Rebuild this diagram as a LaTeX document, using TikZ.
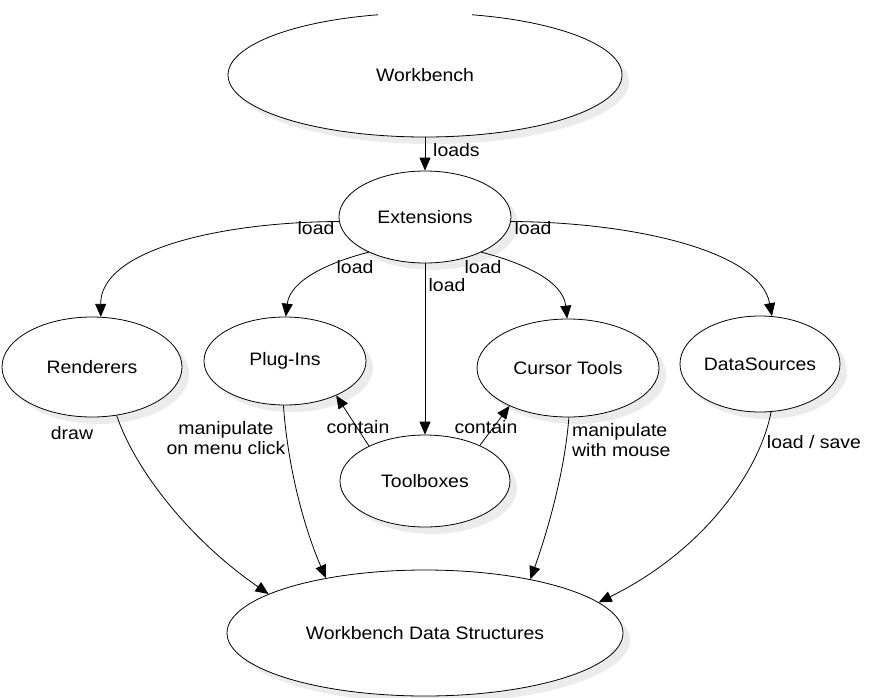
\documentclass[tikz,border=0pt]{standalone}
\usepackage{fontspec}
\setmainfont{Liberation Sans}[FakeStretch=1.08]
\usetikzlibrary{shapes.geometric,arrows.meta,shadows}
\begin{document}
\begin{tikzpicture}[x=1pt,y=-1pt,
  font=\fontsize{18}{20}\selectfont,
  ell/.style={ellipse, draw, line width=0.8pt, fill=white, inner sep=0pt,
    drop shadow={shadow xshift=7pt, shadow yshift=-7pt, fill=black!15}},
  conn/.style={line width=0.8pt, -{Triangle[length=13pt,width=11pt]}},
  lbl/.style={inner sep=0pt}]
\useasboundingbox (0,0) rectangle (870,697);
\fill[white] (0,0) rectangle (870,697);

\node[ell, minimum width=394pt, minimum height=124pt] (wb) at (425,75) {Workbench};
\node[ell, minimum width=172pt, minimum height=92pt] (ext) at (425,217) {Extensions};
\node[ell, minimum width=180pt, minimum height=100pt] (ren) at (92,367) {Renderers};
\node[ell, minimum width=162pt, minimum height=88pt] (plug) at (285,361) {Plug-Ins};
\node[ell, minimum width=182pt, minimum height=98pt] (cur) at (568,368) {Cursor Tools};
\node[ell, minimum width=160pt, minimum height=96pt] (ds) at (760,364) {DataSources};
\node[ell, minimum width=170pt, minimum height=92pt] (tb) at (425,481) {Toolboxes};
\node[ell, minimum width=396pt, minimum height=126pt] (wds) at (425,633) {Workbench Data Structures};

% gap in the top outline of the Workbench ellipse
\fill[white] (378,9) rectangle (472,18);

\draw[conn] (wb.south) -- (ext.north);
\draw[conn] (ext.183) .. controls (220,222) and (100,250) .. (ren.80);
\draw[conn] (ext.357) .. controls (630,222) and (760,250) .. (ds.76);
\draw[conn] (ext.212) .. controls (330,262) and (290,280) .. (plug.89);
\draw[conn] (ext.328) .. controls (520,262) and (563,280) .. (cur.91);
\draw[conn] (ext.south) -- (tb.north);
\draw[conn] (tb.148) -- (plug.326);
\draw[conn] (tb.33) -- (cur.213);
\draw[conn] (ren.297) .. controls (135,470) and (190,540) .. (wds.166);
\draw[conn] (plug.268) .. controls (288,470) and (305,530) .. (wds.151);
\draw[conn] (cur.271) .. controls (565,470) and (548,530) .. (wds.27);
\draw[conn] (ds.283) .. controls (760,470) and (705,550) .. (wds.10);

\node[lbl, anchor=west] (l0) at (433,150) {loads};
\node[lbl] (l1) at (316,228) {load};
\node[lbl] (l2) at (533,228) {load};
\node[lbl] (l3) at (355,267) {load};
\node[lbl] (l4) at (483,267) {load};
\node[lbl] (l5) at (447,285) {load};
\node[lbl] (l6) at (358,427) {contain};
\node[lbl] (l7) at (486,427) {contain};
\node[lbl] (l8) at (72,433) {draw};
\node[lbl, align=center] (l9) at (226,438) {manipulate\\on menu click};
\node[lbl, align=left, anchor=west] (l10) at (572,440) {manipulate\\with mouse};
\node[lbl] (l11) at (814,442) {load / save};
\end{tikzpicture}
\end{document}
